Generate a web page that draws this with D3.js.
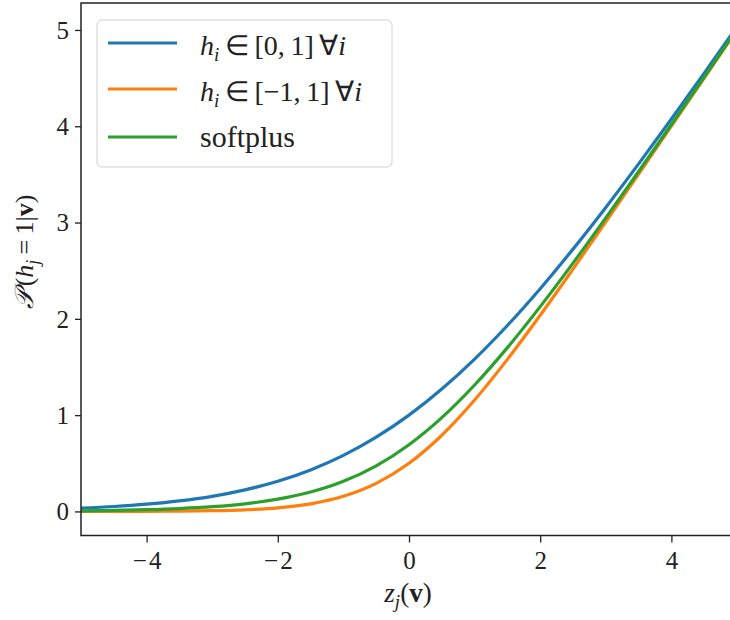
<!DOCTYPE html>
<html>
<head>
<meta charset="utf-8">
<script src="https://cdn.jsdelivr.net/npm/d3@7"></script>
<style>
  html, body { margin: 0; padding: 0; background: #fff; }
  svg { display: block; font-family: "Liberation Serif", "Times New Roman", serif; }
</style>
</head>
<body>
<svg id="chart" width="730" height="620"></svg>
<script>
// ---- data ----
const zValues = [-5, -4.5, -4, -3.5, -3, -2.5, -2, -1.5, -1, -0.5, 0, 0.5, 1, 1.5, 2, 2.5, 3, 3.5, 4, 4.5, 5];
const seriesUnit = [0.034, 0.051, 0.075, 0.109, 0.157, 0.224, 0.313, 0.431, 0.582, 0.771, 1.0, 1.271, 1.582, 1.931, 2.313, 2.724, 3.157, 3.609, 4.075, 4.551, 5.034];
const seriesSym = [0.0002, 0.0006, 0.0013, 0.003, 0.0075, 0.017, 0.037, 0.079, 0.157, 0.291, 0.5, 0.791, 1.157, 1.579, 2.037, 2.517, 3.007, 3.503, 4.001, 4.5, 5.0];
const seriesSoftplus = [0.0067, 0.011, 0.018, 0.030, 0.049, 0.079, 0.127, 0.201, 0.313, 0.474, 0.693, 0.974, 1.313, 1.701, 2.127, 2.579, 3.049, 3.530, 4.018, 4.511, 5.007];
const xTicks = [-4, -2, 0, 2, 4];
const yTicks = [0, 1, 2, 3, 4, 5];
const colors = ["#1f77b4", "#ff7f0e", "#2ca02c"];

// ---- layout ----
const svg = d3.select("#chart");
const L = 81, R = 737, T = 3, B = 535.5;
const x = d3.scaleLinear().domain([-5, 5]).range([L, R]);
const y = d3.scaleLinear().domain([-0.25, 5.28]).range([B, T]);

svg.append("defs").append("clipPath").attr("id", "plotclip")
  .append("rect").attr("x", L).attr("y", T).attr("width", R - L).attr("height", B - T);

// lines
const allSeries = [seriesUnit, seriesSym, seriesSoftplus];
const line = d3.line().x((d, i) => x(zValues[i])).y(d => y(d)).curve(d3.curveMonotoneX);
const g = svg.append("g").attr("clip-path", "url(#plotclip)");
allSeries.forEach((s, k) => {
  g.append("path").datum(s).attr("d", line)
    .attr("fill", "none").attr("stroke", colors[k]).attr("stroke-width", 3.2)
    .attr("stroke-linecap", "square");
});

// axes
const fmt = d => d < 0 ? "\u2212\u200A" + Math.abs(d) : String(d);
const xAxis = svg.append("g").attr("transform", `translate(0,${B})`)
  .call(d3.axisBottom(x).tickValues(xTicks).tickSize(7).tickPadding(6).tickFormat(fmt));
const yAxis = svg.append("g").attr("transform", `translate(${L},0)`)
  .call(d3.axisLeft(y).tickValues(yTicks).tickSize(6).tickPadding(6).tickFormat(fmt));
[xAxis, yAxis].forEach(a => {
  a.attr("font-family", null);
  a.select(".domain").remove();
  a.selectAll(".tick line").attr("stroke", "#222").attr("stroke-width", 1.3);
  a.selectAll(".tick text").attr("fill", "#222").style("font-size", "25px")
    .style("font-family", "'Liberation Serif', 'Times New Roman', serif");
});
xAxis.selectAll(".tick text").attr("dy", null).attr("y", 33);
yAxis.selectAll(".tick text").attr("dy", "0.33em");

// frame
svg.append("rect").attr("x", L).attr("y", T).attr("width", R - L).attr("height", B - T)
  .attr("fill", "none").attr("stroke", "#222").attr("stroke-width", 1.5);

// x label
const xl = svg.append("text").attr("x", 408).attr("y", 602).attr("text-anchor", "middle")
  .style("font-size", "27px").attr("fill", "#222");
xl.append("tspan").style("font-style", "italic").text("z");
xl.append("tspan").style("font-style", "italic").style("font-size", "19px").attr("dy", 6).text("j");
xl.append("tspan").attr("dy", -6).text("(");
xl.append("tspan").style("font-weight", "bold").text("v");
xl.append("tspan").text(")");

// y label
const yl = svg.append("text").attr("transform", "translate(33,252) rotate(-90)")
  .attr("text-anchor", "middle").style("font-size", "26px").attr("fill", "#222");
yl.append("tspan").style("font-style", "italic").text("\uD835\uDCAB");
yl.append("tspan").attr("dx", 4).text("(");
yl.append("tspan").style("font-style", "italic").text("h");
yl.append("tspan").style("font-style", "italic").style("font-size", "18px").attr("dy", 6).text("j");
yl.append("tspan").attr("dy", -6).text("\u2009=\u20091|");
yl.append("tspan").style("font-weight", "bold").text("v");
yl.append("tspan").text(")");

// legend
const lg = svg.append("g");
lg.append("rect").attr("x", 97).attr("y", 20).attr("width", 295).attr("height", 147)
  .attr("rx", 5).attr("fill", "#fff").attr("fill-opacity", 0.8)
  .attr("stroke", "#d0d0d0").attr("stroke-width", 1);
const legendY = [43, 89, 137];
const legendLabels = [
  [["h", "i"], "\u2009\u2208\u2009[0,\u20091]\u2009\u2200", "i"],
  [["h", "i"], "\u2009\u2208\u2009[\u22121,\u20091]\u2009\u2200", "i"],
  "softplus"
];
legendLabels.forEach((lab, k) => {
  lg.append("line").attr("x1", 108).attr("x2", 177).attr("y1", legendY[k]).attr("y2", legendY[k])
    .attr("stroke", colors[k]).attr("stroke-width", 3.2);
  const t = lg.append("text").attr("x", 200).attr("y", legendY[k] + 12)
    .style("font-size", "28px").attr("fill", "#222");
  if (typeof lab === "string") {
    t.attr("y", legendY[k] + 10).style("font-size", "30px").text(lab);
  } else {
    t.append("tspan").style("font-style", "italic").text(lab[0][0]);
    t.append("tspan").style("font-style", "italic").style("font-size", "19px").attr("dy", 6).text(lab[0][1]);
    t.append("tspan").attr("dy", -6).text(lab[1]);
    t.append("tspan").style("font-style", "italic").text(lab[2]);
  }
});
</script>
</body>
</html>
